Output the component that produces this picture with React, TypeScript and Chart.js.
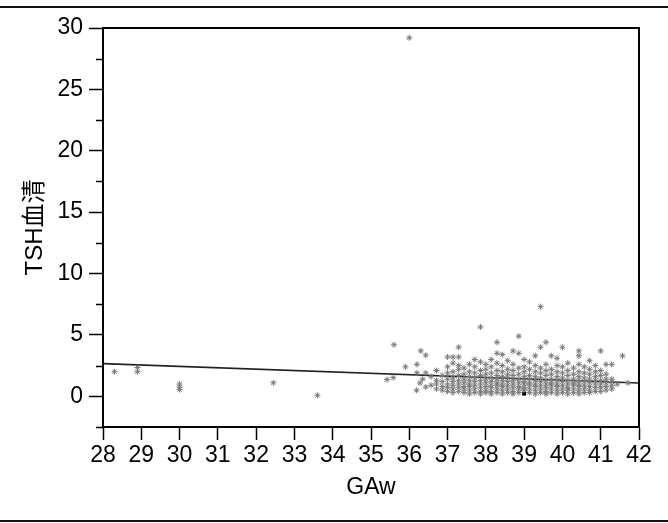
import React, { useEffect, useRef } from "react";
import { Chart, registerables } from "chart.js";

Chart.register(...registerables);

// GA weeks tick range
const xTicks = [28, 29, 30, 31, 32, 33, 34, 35, 36, 37, 38, 39, 40, 41, 42];
const yMajorTicks = [0, 5, 10, 15, 20, 25, 30];

// isolated observations [GAw, TSH]
const outlierPoints: [number, number][] = [
  [28.3, 2.0], [28.9, 2.0], [28.9, 2.35], [30.0, 0.55], [30.0, 0.75], [30.0, 1.0],
  [32.45, 1.1], [33.6, 0.08], [36.0, 29.2], [35.6, 4.2], [35.42, 1.36], [35.58, 1.52],
  [35.9, 2.4], [36.2, 2.6], [36.2, 1.9], [36.3, 3.7], [36.43, 3.35], [36.43, 1.9],
  [36.35, 1.4], [36.28, 1.08], [36.43, 0.76], [36.19, 0.49],
];

// dense cluster, per GA column: [GAw, TSH values]
const clusterColumns: [number, number[]][] = [
  [36.57, [0.9, 1.6]],
  [36.71, [0.6, 1.0, 1.3, 2.1]],
  [36.86, [0.5, 0.8, 1.2, 1.7]],
  [37.0, [0.4, 0.7, 1.0, 1.4, 1.9, 2.4, 3.2]],
  [37.14, [0.3, 0.6, 0.9, 1.2, 1.5, 2.0, 2.7, 3.2]],
  [37.29, [0.4, 0.7, 1.0, 1.3, 1.7, 2.2, 2.5, 3.2, 4.0]],
  [37.43, [0.3, 0.6, 0.8, 1.1, 1.4, 1.8, 2.3]],
  [37.57, [0.2, 0.5, 0.8, 1.0, 1.3, 1.6, 2.0, 2.6]],
  [37.71, [0.3, 0.6, 0.9, 1.2, 1.5, 1.9, 2.4, 3.0]],
  [37.86, [0.2, 0.4, 0.7, 1.0, 1.3, 1.7, 2.1, 2.8, 5.65]],
  [38.0, [0.3, 0.5, 0.8, 1.1, 1.4, 1.8, 2.2, 2.6]],
  [38.14, [0.2, 0.4, 0.7, 0.9, 1.2, 1.5, 1.9, 2.4, 3.0]],
  [38.29, [0.3, 0.6, 0.9, 1.1, 1.4, 1.7, 2.1, 2.7, 3.5, 4.4]],
  [38.43, [0.2, 0.5, 0.8, 1.0, 1.3, 1.6, 2.0, 2.5, 3.4]],
  [38.57, [0.3, 0.6, 0.9, 1.2, 1.5, 1.8, 2.2, 2.9]],
  [38.71, [0.2, 0.4, 0.7, 1.0, 1.3, 1.7, 2.1, 2.6, 3.7]],
  [38.86, [0.3, 0.6, 0.8, 1.1, 1.4, 1.8, 2.3, 3.5, 4.9]],
  [39.0, [0.5, 0.7, 1.0, 1.2, 1.6, 2.0, 2.4, 3.0]],
  [39.14, [0.3, 0.6, 0.9, 1.1, 1.4, 1.7, 2.2, 2.8]],
  [39.29, [0.2, 0.5, 0.8, 1.0, 1.3, 1.6, 2.0, 2.5, 3.3]],
  [39.43, [0.3, 0.6, 0.9, 1.2, 1.5, 1.9, 2.3, 4.0, 7.3]],
  [39.57, [0.2, 0.4, 0.7, 1.0, 1.3, 1.7, 2.1, 2.6, 4.4]],
  [39.71, [0.3, 0.6, 0.9, 1.1, 1.4, 1.8, 2.2, 3.3]],
  [39.86, [0.2, 0.5, 0.8, 1.0, 1.3, 1.6, 2.0, 2.5, 3.1]],
  [40.0, [0.3, 0.6, 0.9, 1.2, 1.5, 1.9, 2.4, 4.0]],
  [40.14, [0.2, 0.5, 0.7, 1.0, 1.3, 1.7, 2.1, 2.7]],
  [40.29, [0.3, 0.6, 0.9, 1.1, 1.4, 1.8, 2.3]],
  [40.43, [0.2, 0.5, 0.8, 1.0, 1.3, 1.6, 2.0, 2.6, 3.3, 3.7]],
  [40.57, [0.3, 0.6, 0.9, 1.2, 1.5, 1.9, 2.4]],
  [40.71, [0.3, 0.5, 0.8, 1.1, 1.4, 1.8, 2.2, 2.9]],
  [40.86, [0.4, 0.7, 1.0, 1.3, 1.6, 2.0, 2.5]],
  [41.0, [0.4, 0.7, 1.0, 1.3, 1.7, 2.1, 3.7]],
  [41.14, [0.5, 0.8, 1.1, 1.4, 1.8, 2.6]],
  [41.29, [0.6, 0.9, 1.2, 1.4, 2.6]],
  [41.43, [1.0]],
  [41.57, [3.3]],
  [41.71, [1.1]],
];

// highlighted observation (black square)
const highlightPoint: [number, number][] = [[39.0, 0.22]];

// fitted regression line endpoints
const fitLine: [number, number][] = [[28, 2.66], [42, 1.08]];

const FONT = "'Liberation Sans', Arial, 'Noto Sans CJK JP', sans-serif";

export default function App() {
  const ref = useRef<HTMLCanvasElement | null>(null);

  useEffect(() => {
    const canvas = ref.current;
    if (!canvas) return;

    const scatterData = [
      ...outlierPoints.map(([x, y]) => ({ x, y })),
      ...clusterColumns.flatMap(([x, ys]) => ys.map((y) => ({ x, y }))),
    ];

    const decor = {
      id: "decor",
      afterDraw(chart: any) {
        const { ctx, chartArea, scales } = chart;
        ctx.save();
        // page rules
        ctx.fillStyle = "#111";
        ctx.fillRect(0, 6, chart.width, 2);
        ctx.fillRect(0, 520, chart.width, 2);
        // frame top and right
        ctx.strokeStyle = "#000";
        ctx.lineWidth = 2;
        ctx.beginPath();
        ctx.moveTo(chartArea.left, chartArea.top);
        ctx.lineTo(chartArea.right, chartArea.top);
        ctx.lineTo(chartArea.right, chartArea.bottom);
        ctx.stroke();
        // minor y ticks
        const y = scales.y;
        ctx.lineWidth = 1.5;
        y.ticks.forEach((t: any) => {
          if (Math.abs(t.value % 5) > 1e-6) {
            const py = Math.round(y.getPixelForValue(t.value)) + 0.5;
            ctx.beginPath();
            ctx.moveTo(chartArea.left - 7, py);
            ctx.lineTo(chartArea.left, py);
            ctx.stroke();
          }
        });
        ctx.restore();
      },
    };

    const chart = new Chart(canvas, {
      type: "scatter",
      data: {
        datasets: [
          {
            label: "TSH",
            data: scatterData,
            pointStyle: "star",
            pointRadius: 3,
            borderWidth: 1,
            borderColor: "#7a7a7a",
            backgroundColor: "#7a7a7a",
          },
          {
            label: "fit",
            type: "line",
            data: fitLine.map(([x, y]) => ({ x, y })),
            borderColor: "#222",
            borderWidth: 1.6,
            pointRadius: 0,
            showLine: true,
          } as any,
          {
            label: "highlight",
            data: highlightPoint.map(([x, y]) => ({ x, y })),
            pointStyle: "rect",
            pointRadius: 2.8,
            borderWidth: 0,
            backgroundColor: "#000",
          },
        ],
      },
      options: {
        animation: false,
        responsive: false,
        layout: { padding: { left: 0, top: 28, right: 29, bottom: 0 } },
        plugins: { legend: { display: false }, tooltip: { enabled: false } },
        scales: {
          x: {
            type: "linear",
            min: xTicks[0],
            max: xTicks[xTicks.length - 1],
            afterBuildTicks: (s: any) => {
              s.ticks = xTicks.map((v) => ({ value: v }));
            },
            afterFit: (s: any) => {
              s.height = 96;
            },
            ticks: {
              autoSkip: false,
              maxRotation: 0,
              padding: 2,
              color: "#000",
              font: { family: FONT, size: 23 },
              callback: (v: any) => String(v),
            },
            grid: {
              drawOnChartArea: false,
              drawTicks: true,
              tickLength: 13,
              tickWidth: 1.5,
              tickColor: "#000",
            },
            border: { display: true, color: "#000", width: 2 },
            title: {
              display: true,
              text: "GAw",
              color: "#000",
              font: { family: FONT, size: 23 },
              padding: { top: 0, bottom: 22 },
            },
          },
          y: {
            type: "linear",
            min: -2.5,
            max: 30,
            ticks: {
              stepSize: 2.5,
              autoSkip: false,
              padding: 6,
              color: "#000",
              font: { family: FONT, size: 23 },
              callback: (v: any) => (yMajorTicks.includes(Number(v)) ? String(v) : ""),
            },
            afterFit: (s: any) => {
              s.width = 103;
            },
            grid: {
              drawOnChartArea: false,
              drawTicks: true,
              tickLength: 14,
              tickWidth: 1.5,
              tickColor: (c: any) =>
                c.tick && yMajorTicks.includes(c.tick.value) ? "#000" : "rgba(0,0,0,0)",
            },
            border: { display: true, color: "#000", width: 2 },
            title: {
              display: true,
              text: "TSH血清",
              color: "#000",
              font: { family: FONT, size: 24 },
              padding: { top: 21, bottom: 0 },
            },
          },
        },
      },
      plugins: [decor],
    });

    return () => chart.destroy();
  }, []);

  return (
    <div style={{ position: "fixed", left: 0, top: 0, width: 668, height: 523, background: "#fff" }}>
      <canvas ref={ref} width={668} height={523} />
    </div>
  );
}
